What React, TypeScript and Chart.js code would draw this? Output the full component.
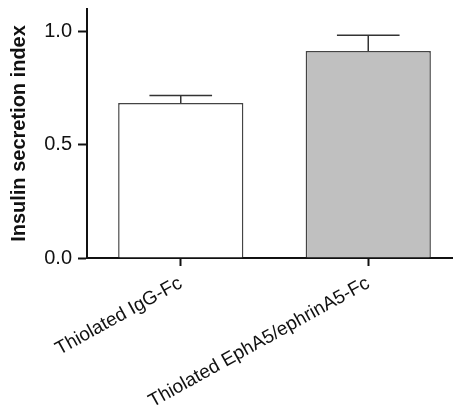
import React, { useEffect, useRef } from "react";
import { Chart, registerables } from "chart.js";

Chart.register(...registerables);

const categories = ["Thiolated IgG-Fc", "Thiolated EphA5/ephrinA5-Fc"];
const means = [0.685, 0.914];
const errors = [0.033, 0.07];
const barColors = ["#ffffff", "#c0c0c0"];
const yTicks = [0, 0.5, 1.0];

const FONT = "'Liberation Sans', Arial, Helvetica, sans-serif";

const errorBarPlugin = {
  id: "errorBars",
  afterDatasetsDraw(chart: any) {
    const ctx = chart.ctx;
    const meta = chart.getDatasetMeta(0);
    const y = chart.scales.y;
    ctx.save();
    ctx.strokeStyle = "#333333";
    ctx.lineWidth = 1.5;
    meta.data.forEach((bar: any, i: number) => {
      const x = bar.x;
      const yTop = y.getPixelForValue(means[i] + errors[i]);
      const yBase = y.getPixelForValue(means[i]);
      const half = bar.width / 4;
      ctx.beginPath();
      ctx.moveTo(x, yBase);
      ctx.lineTo(x, yTop);
      ctx.moveTo(x - half, yTop);
      ctx.lineTo(x + half, yTop);
      ctx.stroke();
    });
    ctx.restore();
  },
};

export default function App() {
  const ref = useRef<HTMLCanvasElement | null>(null);
  useEffect(() => {
    if (!ref.current) return;
    const chart = new Chart(ref.current, {
      type: "bar",
      data: {
        labels: categories,
        datasets: [
          {
            data: means,
            backgroundColor: barColors,
            borderColor: "#444444",
            borderWidth: 1.5,
            categoryPercentage: 1,
            barPercentage: 0.668,
          },
        ],
      },
      options: {
        responsive: false,
        animation: false,
        layout: { padding: { top: 9, left: 0, right: 0, bottom: 0 } },
        plugins: { legend: { display: false }, tooltip: { enabled: false } },
        scales: {
          x: {
            offset: true,
            grid: {
              offset: false,
              drawOnChartArea: false,
              drawTicks: true,
              tickLength: 8,
              tickWidth: 2,
              tickColor: "#111111",
            },
            border: { display: true, color: "#111111", width: 2 },
            ticks: {
              minRotation: 29,
              maxRotation: 29,
              padding: 6,
              color: "#111111",
              font: { family: FONT, size: 19 },
            },
            afterFit(scale: any) {
              scale.height = 156;
              scale.paddingLeft = 0;
              scale.paddingRight = 0;
            },
          },
          y: {
            min: 0,
            max: 1.1,
            afterBuildTicks(scale: any) {
              scale.ticks = yTicks.map((v) => ({ value: v }));
            },
            grid: {
              drawOnChartArea: false,
              drawTicks: true,
              tickLength: 9,
              tickWidth: 2,
              tickColor: "#111111",
            },
            border: { display: true, color: "#111111", width: 2 },
            ticks: {
              padding: 6,
              color: "#111111",
              font: { family: FONT, size: 20 },
              callback: (v: any) => Number(v).toFixed(1),
            },
            title: {
              display: true,
              text: "Insulin secretion index",
              color: "#111111",
              font: { family: FONT, size: 20, weight: "bold" },
              padding: { top: 7, bottom: 4 },
            },
            afterFit(scale: any) {
              scale.width = 87;
              scale.paddingTop = 0;
              scale.paddingBottom = 0;
            },
          },
        },
      },
      plugins: [errorBarPlugin],
    });
    return () => chart.destroy();
  }, []);
  return (
    <div
      style={{
        position: "absolute",
        left: 0,
        top: 0,
        width: 453,
        height: 414,
        overflow: "hidden",
        background: "#ffffff",
      }}
    >
      <canvas ref={ref} width={462} height={414} />
    </div>
  );
}
